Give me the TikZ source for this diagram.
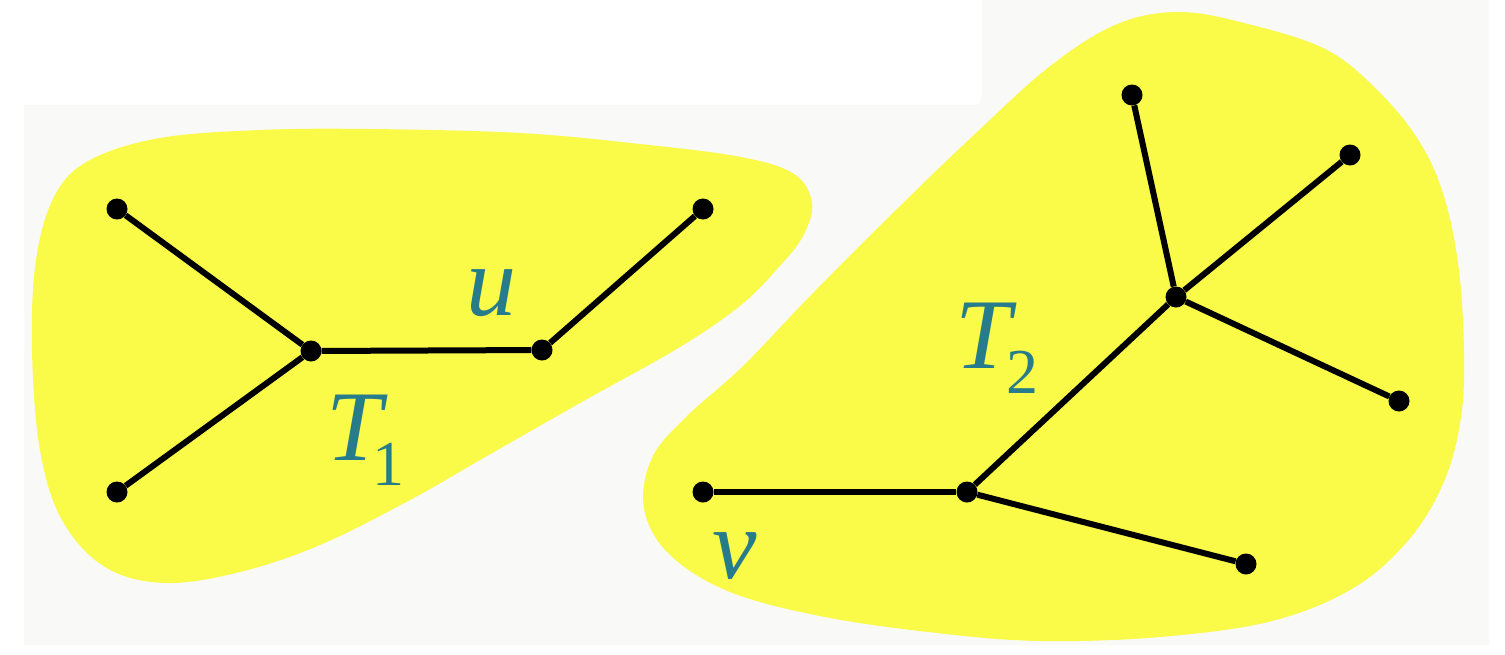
\documentclass[tikz,border=0pt]{standalone}
\usepackage{fontspec}
\setmainfont{Liberation Serif}
\definecolor{blobyellow}{RGB}{250,250,72}
\definecolor{labelteal}{RGB}{38,124,138}
\definecolor{bggrey}{RGB}{249,249,247}
\tikzset{
  dot/.style={circle,fill=black,inner sep=0pt,minimum size=21pt},
  edge/.style={line width=6pt,black},
  blob/.style={fill=blobyellow,draw=none},
  lab/.style={text=labelteal,inner sep=0pt,font=\fontsize{100}{100}\selectfont\itshape},
}
\newcommand{\subtxt}[1]{\raisebox{-25pt}{\fontsize{64}{64}\selectfont\upshape #1}}
\begin{document}
\begin{tikzpicture}[x=1pt,y=-1pt]
\useasboundingbox (0,0) rectangle (1505,654);
\fill[white] (0,0) rectangle (1505,654);
\fill[bggrey] (24,645) -- (24,105) -- (975,105) to[out=0,in=-90] (982,90) -- (982,0) -- (1489,0) -- (1489,645) -- cycle;
% left blob
\fill[blob] plot[smooth cycle,tension=0.6] coordinates {
 (370,129) (520,133) (640,144) (741,157) (794,174) (812,203) (803,236) (778,268)
 (741,305) (680,347) (580,403) (480,460) (410,500) (320,545) (240,572) (165,583)
 (105,567) (62,520) (40,450) (32,350) (36,260) (55,195) (90,160) (160,138) (260,130)};
% right blob
\fill[blob] plot[smooth cycle,tension=0.6] coordinates {
 (1177,12) (1244,23) (1327,50) (1383,96) (1422,146) (1445,200) (1459,271) (1464,354)
 (1461,417) (1445,479) (1411,537) (1355,587) (1272,621) (1160,637) (1040,641) (937,633)
 (825,617) (730,592) (669,554) (644,508) (652,458) (686,417) (742,367) (814,292)
 (898,208) (976,133) (1049,67) (1115,25)};
% tree T1
\node[dot] (a1) at (117,209) {};
\node[dot] (a2) at (117,492) {};
\node[dot] (a3) at (311,351) {};
\node[dot] (u) at (542,350) {};
\node[dot] (a5) at (703,209) {};
\draw[edge] (a1) -- (a3);
\draw[edge] (a2) -- (a3);
\draw[edge] (a3) -- (u);
\draw[edge] (u) -- (a5);
% tree T2
\node[dot] (b1) at (1132,95) {};
\node[dot] (b2) at (1350,155) {};
\node[dot] (b3) at (1176,297) {};
\node[dot] (b4) at (1399,401) {};
\node[dot] (b5) at (967,492) {};
\node[dot] (v) at (703,492) {};
\node[dot] (b7) at (1246,564) {};
\draw[edge] (b1) -- (b3);
\draw[edge] (b2) -- (b3);
\draw[edge] (b3) -- (b4);
\draw[edge] (b3) -- (b5);
\draw[edge] (b5) -- (v);
\draw[edge] (b5) -- (b7);
% labels
\node[lab,anchor=base west] (lu) at (466,315) {u};
\node[lab,anchor=base west] (lt1) at (326,460) {T\kern-9pt\subtxt{1}};
\node[lab,anchor=base west] (lt2) at (955,368) {T\kern-4pt\subtxt{2}};
\node[lab,anchor=base west] (lv) at (712,578) {v};
\end{tikzpicture}
\end{document}
